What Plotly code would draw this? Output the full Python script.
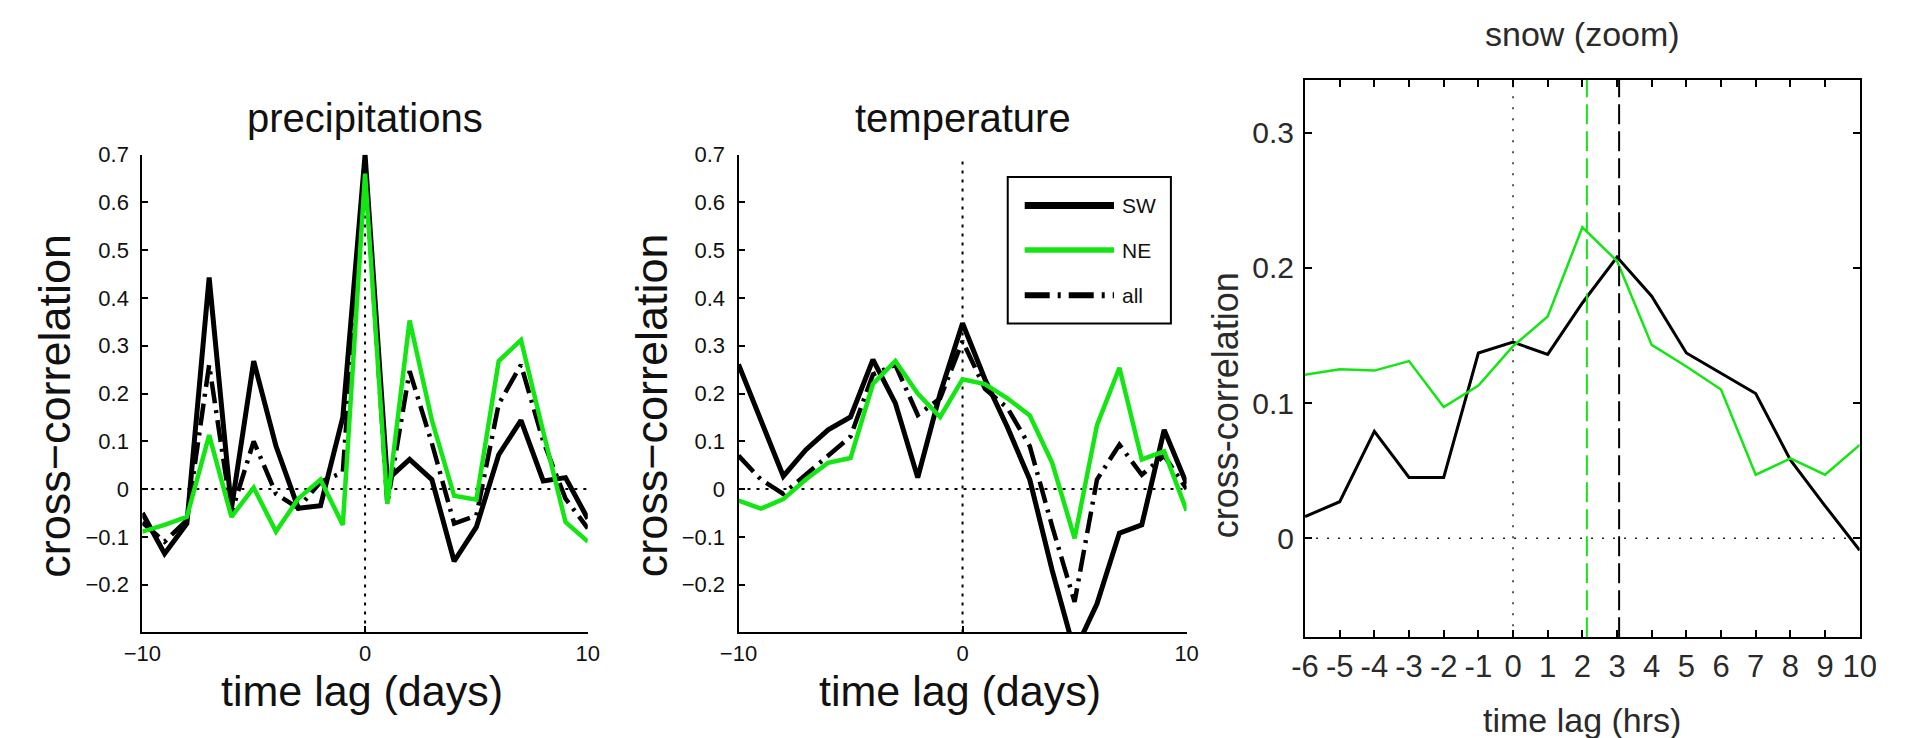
import plotly.graph_objects as go

W, H = 1913, 738

# ---- data: cross-correlation vs time lag ----
lag_days = list(range(-10, 11))

precip_sw = [-0.05, -0.135, -0.072, 0.443, -0.041, 0.268, 0.09, -0.04, -0.035, 0.15, 0.70,
             0.02, 0.062, 0.02, -0.151, -0.079, 0.072, 0.144, 0.017, 0.024, -0.062]
precip_ne = [-0.089, -0.075, -0.058, 0.113, -0.058, 0.003, -0.089, -0.02, 0.02, -0.075, 0.66,
             -0.031, 0.353, 0.144, -0.014, -0.022, 0.268, 0.312, 0.12, -0.069, -0.11]
precip_all = [-0.07, -0.11, -0.065, 0.26, -0.05, 0.10, -0.01, -0.04, 0.015, 0.035, 0.68,
              -0.03, 0.247, 0.096, -0.072, -0.055, 0.178, 0.26, 0.10, -0.02, -0.082]

temp_sw = [0.261, 0.144, 0.027, 0.082, 0.124, 0.151, 0.271, 0.18, 0.024, 0.20, 0.347,
           0.23, 0.13, 0.02, -0.17, -0.34, -0.24, -0.092, -0.075, 0.124, 0.011]
temp_ne = [-0.024, -0.041, -0.021, 0.02, 0.055, 0.065, 0.22, 0.268, 0.20, 0.151, 0.23,
           0.22, 0.19, 0.154, 0.055, -0.103, 0.134, 0.254, 0.062, 0.079, -0.045]
temp_all = [0.07, 0.02, -0.01, 0.03, 0.07, 0.11, 0.24, 0.26, 0.155, 0.19, 0.31,
            0.21, 0.17, 0.09, -0.078, -0.236, 0.02, 0.093, 0.03, 0.07, 0.0]

lag_hrs = list(range(-6, 11))
snow_sw = [0.016, 0.027, 0.079, 0.045, 0.045, 0.137, 0.145, 0.136, 0.174, 0.208, 0.179,
           0.137, 0.122, 0.107, 0.058, 0.024, -0.009]
snow_ne = [0.121, 0.125, 0.124, 0.131, 0.097, 0.113, 0.142, 0.164, 0.23, 0.205, 0.143,
           0.127, 0.11, 0.047, 0.059, 0.047, 0.069]
snow_peak_ne = 2.13
snow_peak_sw = 3.06

# ---- tick labels ----
days_tickvals = [-10, 0, 10]
days_ticktext = ["\u221210", "0", "10"]
corr_tickvals = [-0.2, -0.1, 0, 0.1, 0.2, 0.3, 0.4, 0.5, 0.6, 0.7]
corr_ticktext = ["\u22120.2", "\u22120.1", "0", "0.1", "0.2", "0.3", "0.4", "0.5", "0.6", "0.7"]
hrs_tickvals = lag_hrs
hrs_ticktext = [str(v) for v in lag_hrs]
snow_tickvals = [0, 0.1, 0.2, 0.3]
snow_ticktext = ["0", "0.1", "0.2", "0.3"]

GREEN = "#14e614"
FONT = "Liberation Sans, Arial, Helvetica, sans-serif"
ALL_DASH = "22px,7px,3px,7px"


def px(x):
    return x / W


def py(y):
    return 1 - y / H


fig = go.Figure()

panels = [
    ("x", "y", lag_days, precip_sw, precip_ne, precip_all),
    ("x2", "y2", lag_days, temp_sw, temp_ne, temp_all),
]
for xa, ya, lag, sw, ne, al in panels:
    fig.add_trace(go.Scatter(x=lag, y=sw, xaxis=xa, yaxis=ya, mode="lines",
                             line=dict(color="black", width=5), showlegend=False))
    fig.add_trace(go.Scatter(x=lag, y=al, xaxis=xa, yaxis=ya, mode="lines",
                             line=dict(color="black", width=4.5, dash=ALL_DASH), showlegend=False))
    fig.add_trace(go.Scatter(x=lag, y=ne, xaxis=xa, yaxis=ya, mode="lines",
                             line=dict(color=GREEN, width=4.5), showlegend=False))

fig.add_trace(go.Scatter(x=lag_hrs, y=snow_sw, xaxis="x3", yaxis="y3", mode="lines",
                         line=dict(color="black", width=3), showlegend=False))
fig.add_trace(go.Scatter(x=lag_hrs, y=snow_ne, xaxis="x3", yaxis="y3", mode="lines",
                         line=dict(color=GREEN, width=2.5), showlegend=False))

# axes geometry (pixels)
p1 = dict(x0=125.7, x1=579.7)
p2 = dict(x0=733.3, x1=1190.0)
p3 = dict(x0=1310.7, x1=1876.0)
y12 = dict(top=145.0, bot=630.7)
y3 = dict(top=69.0, bot=635.7)

common_x = dict(showline=True, linecolor="black", linewidth=2, ticks="inside", ticklen=6,
                tickwidth=2, tickcolor="black", showgrid=False, zeroline=False,
                tickangle=0, tickfont=dict(family=FONT, size=22, color="#111"))
common_y = dict(showline=True, linecolor="black", linewidth=2, ticks="inside", ticklen=6,
                tickwidth=2, tickcolor="black", showgrid=False, zeroline=False,
                tickfont=dict(family=FONT, size=22, color="#111"), ticklabelstandoff=7)

fig.update_layout(
    width=W, height=H, margin=dict(l=0, r=0, t=0, b=0),
    paper_bgcolor="white", plot_bgcolor="white", showlegend=False,
    xaxis=dict(domain=[px(p1["x0"]), px(p1["x1"])], range=[-10, 10], anchor="y",
               tickvals=days_tickvals, ticktext=days_ticktext, **common_x),
    yaxis=dict(domain=[py(y12["bot"]), py(y12["top"])], range=[-0.3, 0.7], anchor="x",
               tickvals=corr_tickvals, ticktext=corr_ticktext, **common_y),
    xaxis2=dict(domain=[px(p2["x0"]), px(p2["x1"])], range=[-10, 10], anchor="y2",
                tickvals=days_tickvals, ticktext=days_ticktext, **common_x),
    yaxis2=dict(domain=[py(y12["bot"]), py(y12["top"])], range=[-0.3, 0.7], anchor="x2",
                tickvals=corr_tickvals, ticktext=corr_ticktext, **common_y),
    xaxis3=dict(domain=[px(p3["x0"]), px(p3["x1"])], range=[-6, 10], anchor="y3",
                tickvals=hrs_tickvals, ticktext=hrs_ticktext, mirror="ticks",
                showline=True, linecolor="black", linewidth=2, ticks="inside", ticklen=7,
                tickwidth=1.5, tickcolor="black", showgrid=False, zeroline=False, tickangle=0,
                tickfont=dict(family=FONT, size=31, color="#2a2a2a")),
    yaxis3=dict(domain=[py(y3["bot"]), py(y3["top"])], range=[-0.0733, 0.339], anchor="x3",
                tickvals=snow_tickvals, ticktext=snow_ticktext, mirror="ticks",
                showline=True, linecolor="black", linewidth=2, ticks="inside", ticklen=7,
                tickwidth=1.5, tickcolor="black", showgrid=False, zeroline=False,
                tickfont=dict(family=FONT, size=30, color="#2a2a2a"), ticklabelstandoff=3),
)

shapes = []
# dotted zero lines
for xr, yr in (("x", "y"), ("x2", "y2")):
    shapes.append(dict(type="line", xref=xr, yref=yr, x0=-10, x1=10, y0=0, y1=0, layer="below",
                       line=dict(color="black", width=2, dash="3px,6px")))
    shapes.append(dict(type="line", xref=xr, yref=yr, x0=0, x1=0, y0=-0.3, y1=0.69, layer="below",
                       line=dict(color="black", width=2, dash="3px,6px")))
shapes.append(dict(type="line", xref="x3", yref="y3", x0=-6, x1=10, y0=0, y1=0, layer="below",
                   line=dict(color="#222", width=1.5, dash="2px,9px")))
shapes.append(dict(type="line", xref="x3", yref="y3", x0=0, x1=0, y0=-0.0733, y1=0.339,
                   layer="below", line=dict(color="#222", width=1.5, dash="2px,9px")))
# peak-lag markers
shapes.append(dict(type="line", xref="x3", yref="y3", x0=snow_peak_ne, x1=snow_peak_ne,
                   y0=-0.0733, y1=0.339, line=dict(color=GREEN, width=2, dash="20px,7px")))
shapes.append(dict(type="line", xref="x3", yref="y3", x0=snow_peak_sw, x1=snow_peak_sw,
                   y0=-0.0733, y1=0.339, line=dict(color="black", width=2, dash="20px,7px")))

# legend box in the temperature panel
lg = dict(x0=1007.7, x1=1174.0, y0=167.7, y1=316.7)
shapes.append(dict(type="rect", xref="paper", yref="paper", x0=px(lg["x0"]), x1=px(lg["x1"]),
                   y0=py(lg["y1"]), y1=py(lg["y0"]), fillcolor="white",
                   line=dict(color="black", width=2)))
legend_items = [("SW", 196.7, dict(color="black", width=7)),
                ("NE", 242.0, dict(color=GREEN, width=5.5)),
                ("all", 288.0, dict(color="black", width=6, dash="25px,8px,3px,8px"))]
annotations = []
for label, yy, ln in legend_items:
    shapes.append(dict(type="line", xref="paper", yref="paper", x0=px(1025), x1=px(1116),
                       y0=py(yy), y1=py(yy), line=ln))
    annotations.append(dict(text=label, xref="paper", yref="paper", x=px(1122), y=py(yy),
                            xanchor="left", yanchor="middle", showarrow=False,
                            font=dict(family=FONT, size=21, color="#111")))

# titles and axis labels
def label(text, x, y, size, angle=0, color="#111"):
    annotations.append(dict(text=text, xref="paper", yref="paper", x=px(x), y=py(y),
                            xanchor="center", yanchor="middle", showarrow=False,
                            textangle=angle, font=dict(family=FONT, size=size, color=color)))

label("precipitations", 352.7, 108, 40)
label("temperature", 961.7, 108, 40)
label("snow (zoom)", 1593, 22, 34, color="#2a2a2a")
label("cross\u2212correlation", 36, 400, 45, -90)
label("cross\u2212correlation", 645, 400, 45, -90)
label("cross-correlation", 1230, 400, 36, -90, color="#2a2a2a")
label("time lag (days)", 350, 690, 43)
label("time lag (days)", 959, 690, 43)
label("time lag (hrs)", 1593, 720, 34, color="#2a2a2a")

fig.update_layout(shapes=shapes, annotations=annotations)
fig.write_html("out.html")
